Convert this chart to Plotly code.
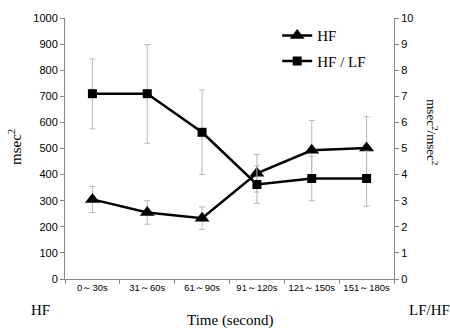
import plotly.graph_objects as go

categories = ["0～30s", "31～60s", "61～90s", "91～120s", "121～150s", "151～180s"]
hf = [305, 255, 233, 405, 493, 502]
hf_err = [50, 45, 43, 72, 114, 120]
hflf = [7.1, 7.1, 5.62, 3.62, 3.85, 3.85]
hflf_err_plus = [1.33, 1.88, 1.62, 0.72, 0.85, 1.05]
hflf_err_minus = [1.35, 1.9, 1.62, 0.72, 0.85, 1.06]

serif = "Liberation Serif"
sans = "Liberation Sans"

fig = go.Figure()
fig.add_trace(go.Scatter(
    x=categories, y=hf, name="HF", mode="lines+markers", legendgroup="a",
    line=dict(color="black", width=2.5),
    marker=dict(symbol="triangle-up", size=13, color="black"),
    error_y=dict(type="data", array=hf_err, color="#b8b8b8", thickness=1, width=3),
))
fig.add_trace(go.Scatter(
    x=categories, y=hflf, name="HF / LF", mode="lines+markers", yaxis="y2", legendgroup="b",
    line=dict(color="black", width=2.5),
    marker=dict(symbol="square", size=9, color="black"),
    error_y=dict(type="data", array=hflf_err_plus, arrayminus=hflf_err_minus,
                 color="#b8b8b8", thickness=1, width=3),
))

fig.update_layout(
    width=450, height=328,
    margin=dict(l=65, r=56, t=14, b=49),
    plot_bgcolor="white", paper_bgcolor="white",
    showlegend=True,
    legend=dict(x=0.645, y=0.995, xanchor="left", yanchor="top",
                font=dict(family=serif, size=15, color="black"),
                bgcolor="rgba(0,0,0,0)", tracegroupgap=3),
    xaxis=dict(type="category", range=[-0.5, 5.5], showline=True, linecolor="#888888",
               linewidth=1, ticks="outside", tickson="boundaries", ticklen=4,
               tickcolor="#888888", showgrid=False, tickangle=0,
               tickfont=dict(family=sans, size=9.5, color="black")),
    yaxis=dict(range=[0, 1000], dtick=100, showline=True, linecolor="#888888",
               linewidth=1, ticks="outside", ticklen=4, tickcolor="#888888",
               showgrid=False, zeroline=False,
               tickfont=dict(family=sans, size=11, color="black")),
    yaxis2=dict(range=[0, 10], dtick=1, overlaying="y", side="right", showline=True,
                linecolor="#888888", linewidth=1, ticks="outside", ticklen=4,
                tickcolor="#888888", showgrid=False, zeroline=False,
                tickfont=dict(family=sans, size=11, color="black")),
    annotations=[
        dict(text="msec<sup>2</sup>", x=15, y=145, showarrow=False, textangle=-90,
             font=dict(family=serif, size=15, color="black")),
        dict(text="msec<sup>2</sup>/msec<sup>2</sup>", x=432, y=130, showarrow=False,
             textangle=90, font=dict(family=serif, size=13, color="black")),
        dict(text="Time (second)", x=230, y=321, showarrow=False,
             font=dict(family=serif, size=15, color="black")),
        dict(text="HF", x=40, y=310, showarrow=False,
             font=dict(family=serif, size=15, color="black")),
        dict(text="LF/HF", x=429, y=310, showarrow=False,
             font=dict(family=serif, size=15, color="black")),
    ],
)

# convert pixel positions for annotations into paper coordinates
pw = 450 - 65 - 56
ph = 328 - 14 - 49
for a in fig.layout.annotations:
    px, py = a.x, a.y
    a.x = (px - 65) / pw
    a.y = (328 - 49 - py) / ph
    a.xref = "paper"
    a.yref = "paper"
    a.xanchor = "center"
    a.yanchor = "middle"

fig.write_html("out.html")
